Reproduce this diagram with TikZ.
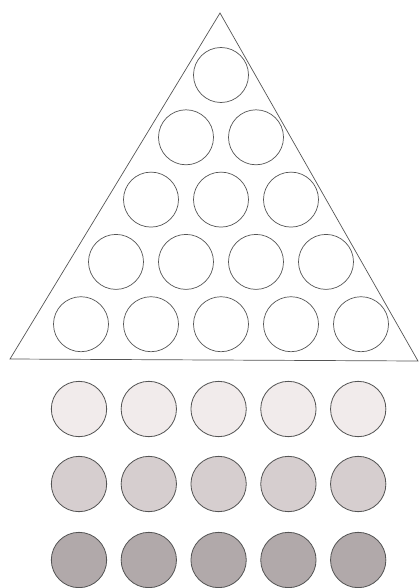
\documentclass[tikz,border=0pt]{standalone}
\usepackage{tikz}
\usetikzlibrary{positioning}
\definecolor{paleball}{HTML}{F1EBEB}
\definecolor{midball}{HTML}{D6CECF}
\definecolor{darkball}{HTML}{B1A9AA}
\definecolor{rim}{HTML}{555555}

\begin{document}
\begin{tikzpicture}[
    x=0.03cm, y=-0.03cm,
    hole/.style={draw=rim, circle, inner sep=0pt, minimum size=1.65cm, line width=0.6pt},
    ball/.style={hole, minimum size=1.66cm, line width=0.7pt},
]
\useasboundingbox (0,0) rectangle (419,588);

% === RACK ===
\coordinate (apex) at (220,13);
\coordinate (baseL) at (10,359);
\coordinate (baseR) at (418,361);
\draw[rim, line width=0.6pt] (apex) -- (baseR) -- (baseL) -- cycle;

\foreach \r in {1,...,5} {
  \foreach \c in {1,...,\r} {
    \node[hole] (hole-\r-\c) at ({221 - 35*(\r-1) + 70*(\c-1)}, {75 + 62.3*(\r-1)}) {};
  }
}

% === BALLS ===
\foreach \c in {1,...,5} {
  \node[ball, fill=paleball] (pale-\c) at ({79 + 69.8*(\c-1)}, 409) {};
  \node[ball, fill=midball] (mid-\c) at ({79 + 69.8*(\c-1)}, 484) {};
  \node[ball, fill=darkball] (dark-\c) at ({79 + 69.8*(\c-1)}, 560) {};
}

\end{tikzpicture}
\end{document}
